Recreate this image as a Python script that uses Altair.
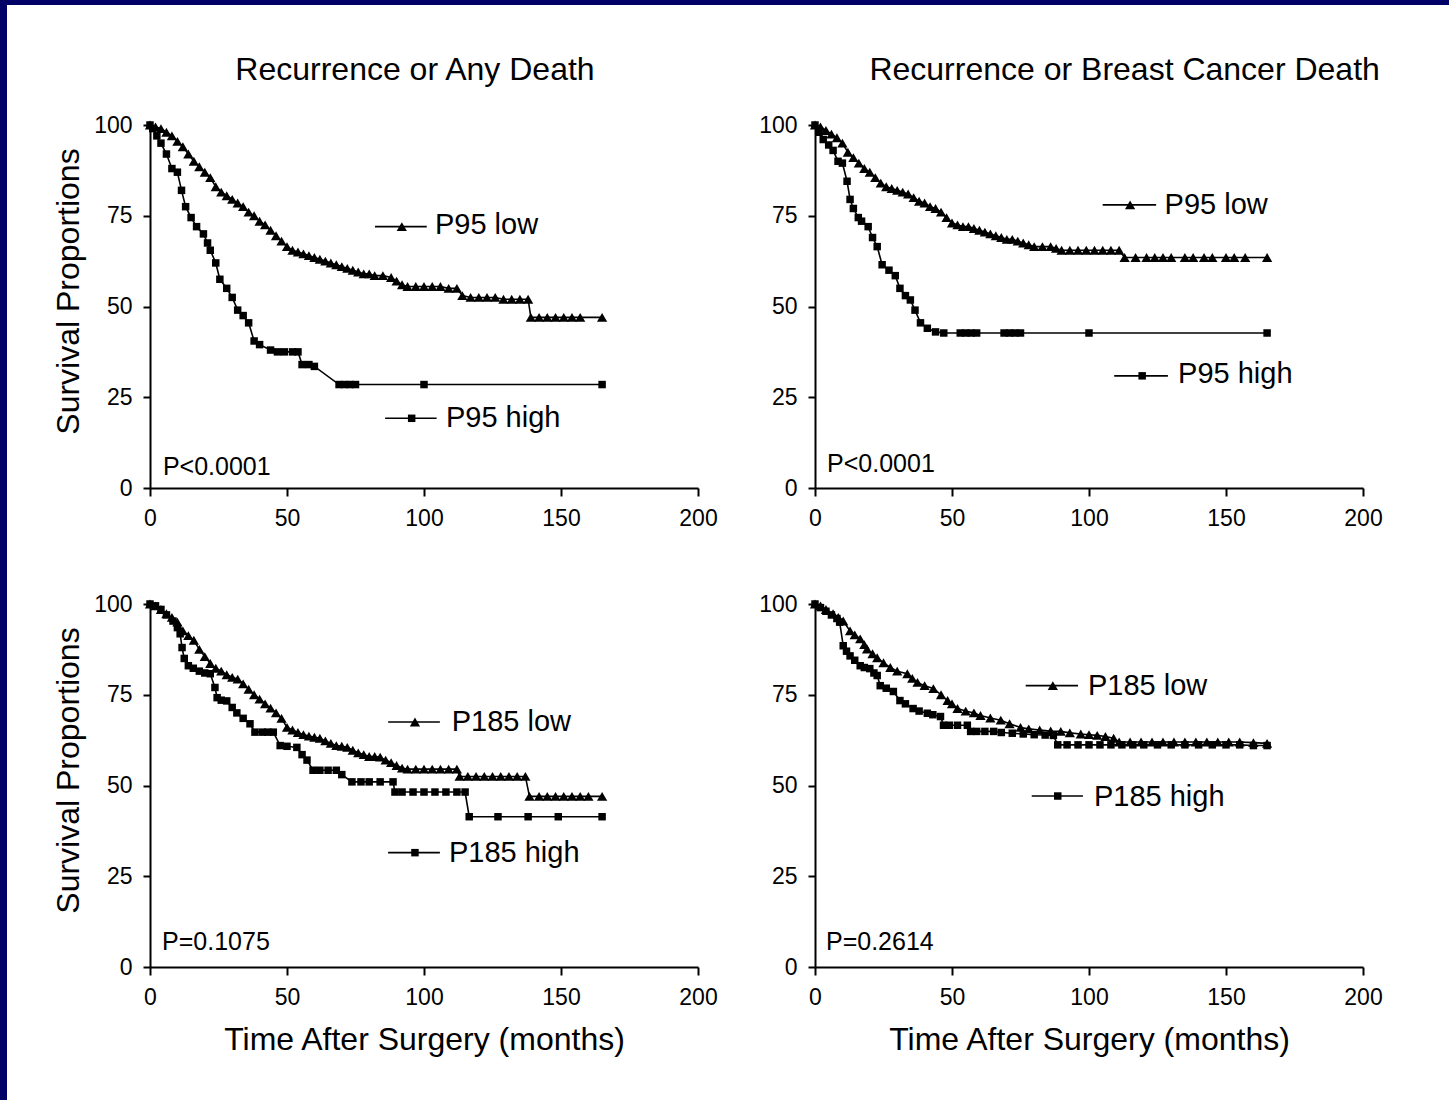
import altair as alt
import pandas as pd

FONT = "Liberation Sans"
NAVY = "#000066"

# ---------------- data (time in months, survival %) ----------------
TL_LOW = [(0,100),(2,99.5),(4,99),(6,98),(8,97),(10,95.5),(12,94),(14,92),(16,90),(18,88.5),(20,87),
          (22,85.5),(24,83),(26,81.5),(28,80.5),(30,79.5),(32,78.5),(34,77.5),(36,76),(38,75),(40,73.5),
          (42,72.5),(44,71),(46,69.5),(48,68),(50,66.5),(52,65.5),(54,65),(56,64.5),(58,64),(60,63.5),
          (62,63),(64,62.5),(66,62),(68,61.5),(70,61),(72,60.5),(74,60),(76,59.5),(78,59),(80,59),
          (82,58.5),(85,58.5),(88,58),(90,57),(92,56),(94,55.5),(97,55.5),(100,55.5),(103,55.5),
          (106,55.5),(109,55),(112,55),(114,53),(117,52.5),(120,52.5),(123,52.5),(126,52.5),(129,52),
          (132,52),(135,52),(138,52),(139,47),(142,47),(145,47),(148,47),(151,47),(154,47),(157,47),(165,47)]
TL_HIGH = [(0,100),(1,99),(2.5,97),(4,95),(6,92),(8,88),(10,87),(11.5,82),(13,77.5),(15,74.5),(17,72),
           (19.5,70),(21,67.5),(22,65.5),(24,62),(25.5,57.5),(28,55),(30,52.5),(32,49),(34,47.5),(36,45.5),
           (38,40.5),(40,39.5),(44,38),(46.5,37.5),(49,37.5),(52,37.5),(54,37.5),(55.5,34),(58,34),
           (60,33.5),(69,28.5),(71,28.5),(73,28.5),(75,28.5),(100,28.5),(165,28.5)]
TR_LOW = [(0,100),(2,99.5),(4,98.5),(6,97.5),(8,96.5),(10,95),(12,92.5),(14,91),(16,89.5),(18,88),(20,87),
          (22,85.5),(24,84),(26,83),(28,82.5),(30,82),(32,81.5),(34,81),(36,80),(38,79),(40,78.5),(42,77.5),
          (44,77),(46,76),(48,74.5),(50,73),(52,72.5),(54,72),(56,72),(58,71.5),(60,71),(62,70.5),(64,70),
          (66,69.5),(68,69),(70,68.5),(72,68.5),(74,68),(76,67.5),(78,67),(80,66.5),(83,66.5),(86,66.5),
          (88,66),(90,65.5),(93,65.5),(96,65.5),(99,65.5),(102,65.5),(105,65.5),(108,65.5),(111,65.5),
          (113,63.5),(117,63.5),(121,63.5),(124,63.5),(127,63.5),(130,63.5),(135,63.5),(138,63.5),
          (142,63.5),(145,63.5),(150,63.5),(153,63.5),(157,63.5),(165,63.5)]
TR_HIGH = [(0,100),(1.5,98),(3,96),(5,94.5),(6.6,93),(8.4,90),(10,89.5),(11.7,84.5),(12.8,79.5),(14,77),
           (15.8,74.5),(17,73.5),(19.4,72),(21,69),(22.7,66.5),(24.5,61.5),(27,60),(29.3,58.5),(31,55),
           (33,53),(34.8,51.8),(36.5,49),(38.5,45.5),(41,44),(44,43),(47,42.7),(53,42.7),(55,42.7),
           (57,42.7),(59,42.7),(69,42.7),(71,42.7),(73,42.7),(75,42.7),(100,42.7),(165,42.7)]
BL_LOW = [(0,100),(2,99.5),(4,98.5),(6,97.3),(8,96.3),(10,95),(12,92.6),(14,91.3),(16,90),(18,87.5),
          (20,85.5),(22,83.6),(24,82.3),(26,81.5),(28,80.5),(30,79.8),(32,79.3),(34,78),(36,76.5),(38,75),
          (40,73.8),(42,72.5),(44,71.3),(46,70),(48,68.5),(50,66),(52,65.3),(54,64.6),(56,64),(58,63.6),
          (60,63.3),(62,63),(64,62.3),(66,61.6),(68,61),(70,60.8),(72,60.5),(74,59.7),(76,59),(78,58.5),
          (80,58),(82,58),(84,57.8),(86,57),(88,56.3),(90,55.5),(92,54.8),(94,54.5),(97,54.5),(100,54.5),
          (103,54.5),(106,54.5),(109,54.5),(112,54.5),(113,52.5),(116,52.5),(119,52.5),(122,52.5),
          (125,52.5),(128,52.5),(131,52.5),(134,52.5),(137,52.5),(138.5,47),(142,47),(145,47),(148,47),
          (151,47),(154,47),(157,47),(160,47),(165,47)]
BL_HIGH = [(0,100),(2,99.5),(4,98.5),(6,97),(8.4,95.3),(10,93.5),(11,91.8),(11.7,88),(12.5,85),(14,83),
           (15.8,82.3),(18,81.5),(20,81),(22,80.8),(23.7,77),(24.5,74.2),(26,73.5),(28,73.3),(30,71.5),
           (31.7,70),(34,68.5),(36.5,67),(38.3,64.7),(41,64.7),(43,64.7),(45,64.7),(47.5,61),(50,60.8),
           (53.6,60.5),(55.5,58.5),(57.3,57),(59.5,54.2),(62,54.2),(65,54.2),(68,54.2),(70,53),(73.7,51),
           (77,51),(80,51),(84,51),(88.7,51),(89.4,48.2),(92,48.2),(96,48.2),(100,48.2),(104,48.2),
           (108,48.2),(112,48.2),(115,48.2),(116.5,41.4),(127,41.4),(138,41.4),(149,41.4),(165,41.4)]
BR_LOW = [(0,100),(2,99.5),(4,98.5),(6.6,97.3),(8.5,96.3),(10.3,95.3),(12.8,92.6),(14.5,91.5),(16.5,90.4),
          (18,88.8),(19,87.6),(21,86.3),(22.7,85.2),(25,83.8),(27.5,82.5),(30,81.5),(33.7,80.8),(35.5,79.5),
          (37.4,78.4),(40,77.5),(43.2,76.7),(46,75),(48.4,73.4),(50,72.5),(52,71.2),(55,70.5),(58,70),
          (60.4,69.3),(64,68.6),(67.8,68),(71,67),(75,66),(78,65.6),(82,65.3),(86,65),(89.7,64.9),(93,64.5),
          (97,64.2),(100,64),(103,63.8),(106,63.5),(109,63),(111,62),(115,62),(119,62),(123,62),(127,62),
          (131,62),(135,62),(139,62),(143,62),(147,62),(151,62),(155,62),(160,61.8),(165,61.6)]
BR_HIGH = [(0,100),(2,99),(4,98),(6,97),(8,96),(9,95),(10.3,88.5),(11.5,87),(12.8,85.7),(14.5,84.5),
           (16.5,83),(18,82.5),(20,82.2),(21.5,81),(22.7,80.3),(23.8,77.5),(26,76.8),(28.6,75.9),(31,73.4),
           (33,72.5),(35.8,71.2),(38,70.5),(41,69.9),(43,69.5),(45.8,69),(46.9,66.6),(49,66.6),(52,66.6),
           (55.6,66.6),(56.8,64.9),(59,64.9),(62,64.9),(65.2,64.9),(68,64.6),(72,64.4),(76,64.2),(80,64),
           (84,63.9),(87,63.8),(88.6,61.2),(92,61.2),(96,61.2),(100,61.2),(104,61.2),(108,61.2),(112,61.2),
           (116,61.2),(120,61.2),(125,61.2),(130,61.2),(135,61.2),(140,61.2),(145,61.2),(150,61.2),
           (155,61.2),(160,61),(165,61)]

TITLES = ["Recurrence or Any Death", "Recurrence or Breast Cancer Death"]
TITLE_POS = [(96.7, 112.4), (113.0, 112.4)]
P_TEXT = ["P<0.0001", "P<0.0001", "P=0.1075", "P=0.2614"]
P_POS = [(4.7, 3.6), (4.4, 4.4), (4.4, 4.7), (4.0, 4.7)]
LOW_LABELS = ["P95 low", "P95 low", "P185 low", "P185 low"]
HIGH_LABELS = ["P95 high", "P95 high", "P185 high", "P185 high"]
# legend keys: (line start, line end, marker, text x, line y, text baseline y)
LEG_LOW = [(82.1, 101.0, 91.9, 104.0, 72.0, 70.0),
           (105.0, 124.5, 115.0, 127.6, 78.0, 75.4),
           (86.9, 105.8, 96.7, 110.1, 67.5, 65.0),
           (76.9, 96.0, 86.8, 99.6, 77.5, 75.0)]
LEG_HIGH = [(85.8, 104.6, 95.5, 108.0, 19.2, 16.9),
            (109.2, 128.8, 119.4, 132.5, 30.9, 28.9),
            (86.9, 105.8, 96.7, 109.1, 31.5, 29.0),
            (79.1, 97.8, 88.6, 101.8, 47.1, 44.4)]
X_TICKS = [0, 50, 100, 150, 200]
Y_TICKS = [0, 25, 50, 75, 100]

PW, PH = 548, 363


def curves_df(low, high):
    rows = []
    for g, pts in (("low", low), ("high", high)):
        for i, (t, s) in enumerate(pts):
            rows.append({"t": t, "s": s, "g": g, "i": i})
    return pd.DataFrame(rows)


def panel(k, low, high, top, left, bottom, marker_scale=1.0):
    xs = alt.Scale(domain=[0, 200], nice=False, zero=False)
    ys = alt.Scale(domain=[0, 100], nice=False, zero=False)
    xa = dict(values=X_TICKS, tickSize=8, labelPadding=11, labelFlush=False)
    if bottom:
        xa.update(title="Time After Surgery (months)", titleY=82, titleBaseline="alphabetic",
                  titleFontSize=32)
    else:
        xa.update(title=None)
    ya = dict(values=Y_TICKS, tickSize=7, labelPadding=11, labelFlush=False)
    if left:
        ya.update(title="Survival Proportions", titleX=-82, titleY=166, titleAngle=-90,
                  titleAlign="center", titleBaseline="middle", titleFontSize=32)
    else:
        ya.update(title=None)
    X = alt.X("t:Q", scale=xs, axis=alt.Axis(**xa))
    Y = alt.Y("s:Q", scale=ys, axis=alt.Axis(**ya))
    shape = alt.Shape("g:N", scale=alt.Scale(domain=["low", "high"], range=["triangle-up", "square"]),
                      legend=None)
    size = alt.Size("g:N", scale=alt.Scale(domain=["low", "high"], range=[105, 56]), legend=None)

    cdf = curves_df(low, high)
    lines = alt.Chart(cdf).mark_line(color="black", strokeWidth=1.6).encode(
        x=X, y=Y, detail="g:N", order=alt.Order("i:Q"))
    pts = alt.Chart(cdf).mark_point(filled=True, color="black", opacity=1).encode(
        x=X, y=Y, shape=shape, size=size)

    ll, lh = LEG_LOW[k], LEG_HIGH[k]
    leg_rule = pd.DataFrame({"t": [ll[0], lh[0]], "t2": [ll[1], lh[1]], "s": [ll[4], lh[4]]})
    leg_pt = pd.DataFrame({"t": [ll[2], lh[2]], "s": [ll[4], lh[4]], "g": ["low", "high"]})
    leg_txt = pd.DataFrame({"t": [ll[3], lh[3]], "s": [ll[5], lh[5]],
                            "label": [LOW_LABELS[k], HIGH_LABELS[k]]})
    r = alt.Chart(leg_rule).mark_rule(color="black", strokeWidth=1.6).encode(
        x=X, x2="t2:Q", y=Y)
    lp = alt.Chart(leg_pt).mark_point(filled=True, color="black", opacity=1).encode(
        x=X, y=Y, shape=shape,
        size=alt.Size("g:N", scale=alt.Scale(domain=["low", "high"],
                                              range=[80 * marker_scale, 52 * marker_scale]),
                      legend=None))
    lt = alt.Chart(leg_txt).mark_text(align="left", baseline="alphabetic", font=FONT, fontSize=29,
                                      color="black").encode(x=X, y=Y, text="label:N")
    pdf = pd.DataFrame({"t": [P_POS[k][0]], "s": [P_POS[k][1]], "label": [P_TEXT[k]]})
    pt = alt.Chart(pdf).mark_text(align="left", baseline="alphabetic", font=FONT, fontSize=25,
                                  color="black").encode(x=X, y=Y, text="label:N")
    layers = [lines, pts, r, lp, lt, pt]
    if top:
        tdf = pd.DataFrame({"t": [TITLE_POS[k][0]], "s": [TITLE_POS[k][1]], "label": [TITLES[k]]})
        layers.append(alt.Chart(tdf).mark_text(align="center", baseline="alphabetic", font=FONT,
                                               fontSize=32, color="black").encode(
            x=X, y=Y, text="label:N"))
    if k == 3:
        one = pd.DataFrame({"k": [0]})
        # navy frame strips (decoration), relative to this panel's origin
        layers.append(alt.Chart(one).mark_rect(color=NAVY).encode(
            x=alt.value(-815), x2=alt.value(-808), y=alt.value(-604), y2=alt.value(496)))
        layers.append(alt.Chart(one).mark_rect(color=NAVY).encode(
            x=alt.value(-815), x2=alt.value(634), y=alt.value(-604), y2=alt.value(-599)))
    return alt.layer(*layers).properties(width=PW, height=PH)


tl = panel(0, TL_LOW, TL_HIGH, top=True, left=True, bottom=False)
tr = panel(1, TR_LOW, TR_HIGH, top=True, left=False, bottom=False, marker_scale=0.6)
bl = panel(2, BL_LOW, BL_HIGH, top=False, left=True, bottom=True)
br = panel(3, BR_LOW, BR_HIGH, top=False, left=False, bottom=True, marker_scale=0.6)

chart = alt.concat(tl, tr, bl, br, columns=2, spacing={"row": 116, "column": 117},
                   bounds="flush").properties(
    padding=0, background="white"
).configure_view(strokeWidth=0).configure_axis(
    grid=False, domainColor="black", domainWidth=2, tickColor="black", tickWidth=2,
    labelFont=FONT, labelFontSize=23, labelColor="black", titleFont=FONT,
    titleFontWeight="normal", titleColor="black"
)

chart.save("out.html", embed_options={"renderer": "svg", "actions": False})
